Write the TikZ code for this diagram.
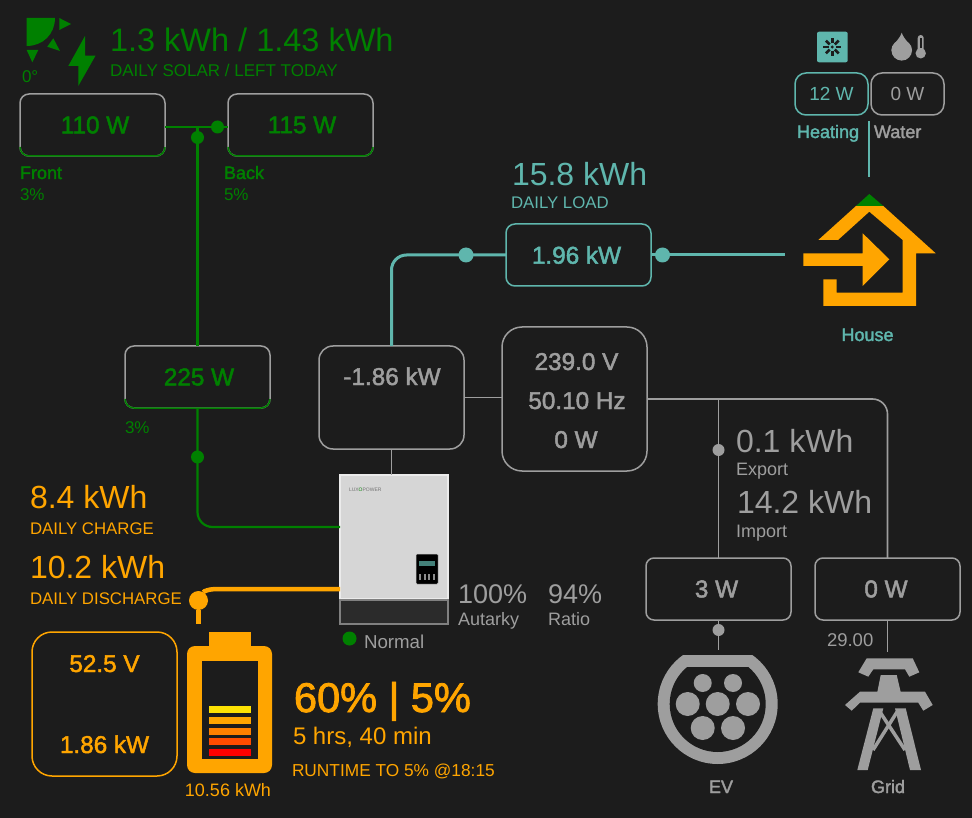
\documentclass[tikz,border=0pt]{standalone}
\usepackage{fontspec}
\setmainfont{Liberation Sans}
\newfontfamily\medfont[FakeBold=2]{Liberation Sans}
\usetikzlibrary{positioning}
\definecolor{bgdark}{HTML}{1C1C1C}
\definecolor{solar}{HTML}{008000}
\definecolor{teal}{HTML}{5FB6AD}
\definecolor{ash}{HTML}{9E9E9E}
\definecolor{amber}{HTML}{FFA500}
\newcommand{\fsz}[1]{\fontsize{#1}{#1}\selectfont}
\tikzset{
	valbox/.style={draw=ash,fill=bgdark,line width=1.5pt,rounded corners=9pt,inner sep=0pt,outer sep=0pt,minimum width=145pt,minimum height=62pt,font=\medfont\fsz{24.3},text=ash},
	lab/.style={anchor=base west,inner sep=0pt,outer sep=0pt},
	midtxt/.style={anchor=base,inner sep=0pt,outer sep=0pt},
	big/.style={font=\fsz{32}},
	sub/.style={font=\fsz{16.8}},
	nametxt/.style={font=\medfont\fsz{18}},
	dot/.style={circle,fill,inner sep=0pt,outer sep=0pt,minimum size=#1},
	dot/.default=13pt,
	solarline/.style={solar,line width=2.2pt},
	loadline/.style={teal,line width=3pt},
	gridline/.style={ash,line width=1.6pt},
	batline/.style={amber,line width=4.5pt},
}
\begin{document}
\begin{tikzpicture}[x=1pt,y=-1pt]
	\fill[bgdark] (0,0) rectangle (972,818);
	\useasboundingbox (0,0) rectangle (972,818);

	% boxes
	\node[valbox,text=solar] (front) at (92.5,125) {\hspace*{5pt}110 W};
	\node[valbox,text=solar] (back) at (300.5,125) {\hspace*{3pt}115 W};
	\node[valbox,text=solar] (pv) at (197.5,377) {\hspace*{3pt}225 W};
	\node[valbox,draw=teal,text=teal] (load) at (578.5,255) {\hspace*{-4pt}1.96 kW};
	\node[valbox,minimum height=103pt,rounded corners=14pt] (inv) at (391.5,397.5) {};
	\node[valbox,minimum height=144pt,rounded corners=20pt] (ac) at (574.5,399) {};
	\node[valbox,rounded corners=8pt] (ev) at (718.5,589) {\hspace*{-4pt}3 W};
	\node[valbox,rounded corners=8pt] (grid) at (887.5,589) {\hspace*{-3pt}0 W};
	\node[valbox,draw=amber,text=amber,minimum height=144pt,rounded corners=20pt] (bat) at (104.5,704) {};
	\node[valbox,draw=teal,minimum width=73pt,minimum height=42pt,rounded corners=11pt,text=teal,font=\fsz{19}] (heat) at (831.5,94) {12 W};
	\node[valbox,minimum width=73pt,minimum height=42pt,rounded corners=11pt,font=\fsz{19}] (water) at (907.5,94) {0 W};

	% green lower edge of the solar boxes
	\foreach \b in {front,back,pv}
		\draw[solar,line width=1.5pt,rounded corners=9pt] ([yshift=9pt]\b.south west) -- (\b.south west) -- (\b.south east) -- ([yshift=9pt]\b.south east);

	% inverter
	\node[fill=black!16,draw=black!8,line width=1.5pt,inner sep=0pt,outer sep=0pt,minimum width=108pt,minimum height=124pt] (unit) at (394,537) {};
	\node[fill=black!83,draw=black!50,line width=1.5pt,inner sep=0pt,below=0pt of unit,minimum width=108pt,minimum height=24pt] (unitbase) {};
	\node[fill=black,draw=black!25,rounded corners=1pt,line width=.5pt,inner sep=0pt,minimum width=22pt,minimum height=30pt] (panel) at (427,569) {};
	\fill[teal!70!black] (419,561) rectangle (435,566);
	\foreach \x in {420,424.5,429,433.5}
		\fill[black!45] (\x-1,574) rectangle (\x+1,580);
	\node[lab,font=\fsz{5},text=black!55] (logo) at (349,491) {LUX\textcolor{solar}{O}POWER};

	% connectors
	\coordinate (solarj) at (197.5,127);
	\coordinate (housein) at (785,255);
	\coordinate (housetop) at (869,177);
	\coordinate (heatj) at (869,121);
	\coordinate (evend) at (718.5,650);
	\coordinate (gridend) at (887.5,652);
	\coordinate (batend) at (198.5,624);
	\draw[solarline] ([yshift=-2pt]front.east) -- ([yshift=-2pt]back.west);
	\draw[solarline] (solarj) -- (pv.north);
	\draw[solarline,rounded corners=15pt] (pv.south) |- ([yshift=10pt]unit.west);
	\draw[loadline,rounded corners=15pt] (inv.north) |- (load.west);
	\draw[loadline] (load.east) -- (housein);
	\draw[teal,line width=1.6pt] (heatj) -- (housetop);
	\draw[gridline] (inv.east) -- (inv.east -| ac.west);
	\draw[gridline] (inv.south) -- (inv.south |- unit.north);
	\draw[gridline,rounded corners=15pt] (ac.east) -| (grid.north);
	\draw[gridline] (ev.north |- ac.east) -- (ev.north);
	\draw[gridline] (ev.south) -- (evend);
	\draw[gridline] (grid.south) -- (gridend);

	\node[dot,solar] (sd1) at (217.5,127) {};
	\node[dot,solar] (sd2) at (197.5,137.5) {};
	\node[dot,solar] (sd3) at (197.5,457) {};
	\node[dot=15pt,teal] (ld1) at (466,255) {};
	\node[dot=15pt,teal] (ld2) at (662.5,255) {};
	\node[dot=12pt,ash] (gd1) at (718.5,450) {};
	\node[dot=12pt,ash] (gd2) at (718.5,630) {};
	\node[dot=19pt,amber] (bd) at (198.5,600.5) {};
	\draw[batline] ([yshift=-52pt]unit.west) -- (218,589) .. controls (209,589) and (204,591) .. (bd);
	\draw[amber,line width=5.5pt] (bd) -- (batend);
	\node[dot=14pt,solar] (statusdot) at (349.5,638.5) {};

	% sun and bolt
	\fill[solar] (26.7,18) -- (55,18) .. controls (55,34) and (43,46) .. (26.7,46) -- cycle;
	\fill[solar] (59.3,18) -- (71,24) -- (59.3,30) -- cycle;
	\fill[solar] (53.3,38.3) -- (60,51) -- (47.3,46.7) -- cycle;
	\fill[solar] (26.7,50) -- (38.3,50) -- (32.3,62.3) -- cycle;
	\fill[solar] (85,36) -- (85,55.7) -- (95.5,55.7) -- (78.3,86) -- (78.3,66) -- (68.3,66) -- cycle;

	% house
	\fill[amber] (818.3,240) -- (856,206) -- (883.3,206) -- (935.7,253.3) -- (916,253.3) -- (916,306) -- (823.3,306) -- (823.3,279.3) -- (836.7,279.3) -- (836.7,292.7) -- (902.7,292.7) -- (902.7,240) -- (869.3,211.7) -- (838,240) -- cycle;
	\fill[amber] (803.3,253.3) -- (862.7,253.3) -- (862.7,233.3) -- (889.3,259.3) -- (862.7,286) -- (862.7,266) -- (803.3,266) -- cycle;
	\fill[solar] (869.3,194) -- (883.3,206) -- (856,206) -- cycle;

	% heating and water icons
	\fill[teal,rounded corners=2pt] (817,31.7) rectangle (847.7,62.3);
	\foreach \a in {0,45,...,315}
		\draw[bgdark,line width=2.6pt] (832.3,47)+(\a:3.6) -- +(\a:9);
	\fill[bgdark] (832.3,47) circle (1.6);
	\fill[ash] (901.7,50.3) circle (10.3);
	\fill[ash] (901.7,32.7) .. controls (904,40) and (912,45) .. (912,50.3) -- (891.4,50.3) .. controls (891.4,45) and (899.4,40) .. cycle;
	\fill[ash,rounded corners=3pt] (917.7,35) rectangle (923.7,55);
	\fill[ash] (920.7,53.3) circle (5.2);
	\fill[bgdark] (919.6,38) rectangle (921.8,48);

	% battery
	\fill[amber] (209,632) rectangle (251,650);
	\fill[amber,rounded corners=8pt] (187,646) rectangle (272,773);
	\fill[bgdark] (202,661) rectangle (258,759);
	\fill[yellow!85!orange] (209,706) rectangle (251,713);
	\fill[amber] (209,717) rectangle (251,724);
	\fill[orange] (209,727.5) rectangle (251,735);
	\fill[red!70!yellow] (209,738) rectangle (251,745);
	\fill[red] (209,749) rectangle (251,756);

	% ev plug
	\begin{scope}
		\clip (650,655.7) rectangle (790,770);
		\fill[ash] (717.7,704) circle (60);
	\end{scope}
	\begin{scope}
		\clip (650,667.7) rectangle (790,770);
		\fill[bgdark] (717.7,704) circle (48);
	\end{scope}
	\foreach \x/\y/\r in {702.7/683/9,733/683/9,687.7/704/12,717.7/704/12,748/704/12,702.7/728/12,733/728/12}
		\fill[ash] (\x,\y) circle (\r);

	% pylon
	\fill[ash] (866.7,658.3) -- (912.7,658.3) -- (919.3,672.3) -- (909.3,676.7) -- (905,669.3) -- (873.3,669.3) -- (868.3,676.7) -- (858.3,672.3) -- cycle;
	\fill[ash] (880.7,675) -- (896.7,675) -- (900.7,692) -- (877.3,692) -- cycle;
	\fill[ash] (860,691.7) -- (925,691.7) -- (932.7,705) -- (923.3,710.7) -- (918.3,702.7) -- (860,702.7) -- (851.7,710.7) -- (845,705) -- cycle;
	\fill[ash] (873.3,708.3) -- (883.3,708.3) -- (867.7,770) -- (857.3,770) -- cycle;
	\fill[ash] (895,708.3) -- (905.7,708.3) -- (921,770) -- (910,770) -- cycle;
	\draw[ash,line width=3.5pt] (880,712) -- (905,750);
	\draw[ash,line width=3.5pt] (897,712) -- (873,750);

	% solar texts
	\node[lab,font=\fsz{32.5},text=solar] (soltxt) at (110,52) {1.3 kWh / 1.43 kWh};
	\node[lab,font=\fsz{17},text=solar] (solsub) at (110,77) {DAILY SOLAR / LEFT TODAY};
	\node[lab,text=solar,font=\fsz{17}] (angle) at (22,83) {0°};
	\node[lab,nametxt,text=solar] (fronttxt) at (20,179) {Front};
	\node[lab,text=solar,font=\fsz{17}] (frontpct) at (20,201) {3\%};
	\node[lab,nametxt,text=solar] (backtxt) at (224,179) {Back};
	\node[lab,text=solar,font=\fsz{17}] (backpct) at (224,201) {5\%};
	\node[lab,text=solar,font=\fsz{17}] (pvpct) at (125,433) {3\%};

	% load texts
	\node[lab,big,text=teal] (loadtxt) at (512,186) {15.8 kWh};
	\node[lab,sub,text=teal] (loadsub) at (511,209) {DAILY LOAD};
	\node[midtxt,nametxt,text=teal] (housetxt) at (867.5,341) {House};
	\node[lab,nametxt,text=teal] (heattxt) at (797,138) {Heating};
	\node[lab,nametxt,text=ash] (watertxt) at (874,138) {Water};

	% inverter and ac texts
	\node[midtxt,font=\medfont\fsz{24.3},text=ash] (invtxt) at (392,385) {-1.86 kW};
	\node[midtxt,font=\medfont\fsz{24.3},text=ash] (volt) at (576.5,370) {239.0 V};
	\node[midtxt,font=\medfont\fsz{24.3},text=ash] (freq) at (577,409) {50.10 Hz};
	\node[midtxt,font=\medfont\fsz{24.3},text=ash] (acw) at (576,448) {0 W};
	\node[lab,font=\fsz{18.7},text=ash] (status) at (364,648) {Normal};
	\node[lab,font=\fsz{27},text=ash] (aut) at (458,603) {100\%};
	\node[lab,font=\fsz{18},text=ash] (auttxt) at (458,625) {Autarky};
	\node[lab,font=\fsz{27},text=ash] (ratio) at (548,603) {94\%};
	\node[lab,font=\fsz{18},text=ash] (ratiotxt) at (548,625) {Ratio};

	% grid texts
	\node[lab,big,text=ash] (exptxt) at (736,452) {0.1 kWh};
	\node[lab,font=\fsz{18},text=ash] (expsub) at (736,475) {Export};
	\node[lab,big,text=ash] (imptxt) at (737,513) {14.2 kWh};
	\node[lab,font=\fsz{18},text=ash] (impsub) at (736,537) {Import};
	\node[lab,font=\fsz{18.5},text=ash] (price) at (827,646) {29.00};
	\node[midtxt,nametxt,text=ash] (evtxt) at (721,793) {EV};
	\node[midtxt,nametxt,text=ash] (gridtxt) at (888,793) {Grid};

	% battery texts
	\node[lab,big,text=amber] (chg) at (30,508) {8.4 kWh};
	\node[lab,sub,text=amber] (chgsub) at (30,534) {DAILY CHARGE};
	\node[lab,big,text=amber] (dis) at (30,578) {10.2 kWh};
	\node[lab,sub,text=amber] (dissub) at (30,604) {DAILY DISCHARGE};
	\node[midtxt,font=\medfont\fsz{24.3},text=amber] (batv) at (104.5,672) {52.5 V};
	\node[midtxt,font=\medfont\fsz{24.3},text=amber] (batw) at (104.5,753) {1.86 kW};
	\node[midtxt,font=\fsz{18},text=amber] (batcap) at (228,796) {10.56 kWh};
	\node[lab,font=\medfont\fsz{41.5},text=amber] (soc) at (294,712) {60\% | 5\%};
	\node[lab,font=\fsz{24},text=amber] (runtime) at (293,744) {5 hrs, 40 min};
	\node[lab,font=\fsz{17.3},text=amber] (runto) at (292,776) {RUNTIME TO 5\% @18:15};
\end{tikzpicture}
\end{document}
